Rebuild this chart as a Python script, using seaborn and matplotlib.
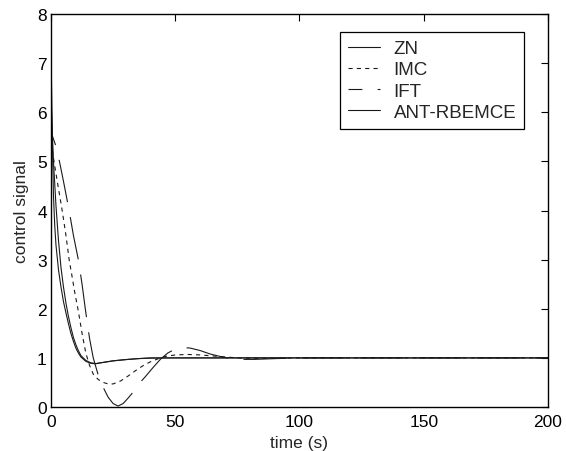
import matplotlib
matplotlib.use("Agg")
import matplotlib.pyplot as plt
import seaborn as sns
import pandas as pd

# ---- data ----
zn_t = [0, 0.3, 0.7, 1, 1.5, 2, 3, 4, 5, 6, 7, 8, 9, 10, 11, 12, 14, 16, 18, 20, 25, 30, 35, 40, 50, 60, 80, 100, 150, 200]
zn_y = [7.3, 6.3, 5.0, 4.3, 3.7, 3.3, 2.8, 2.45, 2.15, 1.92, 1.7, 1.5, 1.34, 1.2, 1.1, 1.02, 0.93, 0.89, 0.88, 0.9, 0.94, 0.965, 0.985, 0.995, 1.0, 1.0, 1.0, 1.0, 1.0, 1.0]

imc_t = [0, 1.2, 3, 4.5, 6, 7.3, 8.5, 9.5, 11, 12.5, 14, 15.5, 17, 19, 21, 23, 25, 28, 31, 34, 37, 40, 43, 46, 50, 55, 60, 65, 70, 75, 85, 100, 150, 200]
imc_y = [5.4, 5.0, 4.45, 4.0, 3.5, 3.0, 2.65, 2.35, 1.95, 1.5, 1.1, 0.85, 0.67, 0.56, 0.5, 0.47, 0.47, 0.53, 0.63, 0.74, 0.84, 0.92, 0.98, 1.03, 1.06, 1.07, 1.06, 1.04, 1.02, 1.0, 0.99, 1.0, 1.0, 1.0]

ift_t = [0, 2.4, 5, 7.3, 9, 11, 12.5, 13.8, 15.5, 17, 19, 21, 23, 25, 27, 29, 31, 33, 35, 38, 41, 44, 47, 50, 53, 56, 60, 64, 68, 72, 76, 82, 90, 100, 150, 200]
ift_y = [5.6, 5.25, 4.6, 4.0, 3.5, 3.0, 2.5, 2.0, 1.4, 1.0, 0.65, 0.4, 0.2, 0.07, 0.02, 0.07, 0.18, 0.3, 0.45, 0.62, 0.8, 0.97, 1.1, 1.18, 1.21, 1.2, 1.15, 1.08, 1.03, 0.99, 0.97, 0.97, 0.985, 1.0, 1.0, 1.0]

ant_t = [0, 0.5, 1, 2, 3, 4, 5, 6, 7, 8, 9, 10, 11, 12, 14, 16, 18, 20, 25, 30, 35, 40, 50, 60, 80, 100, 150, 200]
ant_y = [6.3, 5.6, 5.0, 4.1, 3.4, 2.85, 2.45, 2.12, 1.85, 1.62, 1.42, 1.27, 1.15, 1.05, 0.95, 0.9, 0.885, 0.9, 0.94, 0.965, 0.985, 1.0, 1.0, 1.0, 1.0, 1.0, 1.0, 1.0]

labels = ["ZN", "IMC", "IFT", "ANT-RBEMCE"]
x_ticks = [0, 50, 100, 150, 200]
y_ticks = [0, 1, 2, 3, 4, 5, 6, 7, 8]

series = {
    "ZN": (zn_t, zn_y),
    "IMC": (imc_t, imc_y),
    "IFT": (ift_t, ift_y),
    "ANT-RBEMCE": (ant_t, ant_y),
}
styles = {
    "ZN": "-",
    "IMC": (0, (3, 3)),
    "IFT": (21, (31, 11)),
    "ANT-RBEMCE": "-",
}

sns.set_style("white")
plt.rcParams["font.family"] = ["Liberation Sans", "DejaVu Sans"]
plt.rcParams["lines.scale_dashes"] = False

fig = plt.figure(figsize=(5.66, 4.52), dpi=100)
ax = fig.add_axes([0.0901, 0.0973, 0.8781, 0.8695])

for name in labels:
    t, y = series[name]
    df = pd.DataFrame({"time": t, "value": y})
    sns.lineplot(data=df, x="time", y="value", ax=ax, color="#1a1a1a",
                 linewidth=0.8, linestyle=styles[name], label=name,
                 sort=False, estimator=None)

ax.set_xlim(0, 200)
ax.set_ylim(0, 8)
ax.set_xticks(x_ticks)
ax.set_yticks(y_ticks)
ax.tick_params(direction="in", length=5, width=0.8, top=True, right=True,
               labelsize=12.5, colors="black")
ax.tick_params(axis="x", pad=5)
ax.tick_params(axis="y", pad=3)
for s in ax.spines.values():
    s.set_visible(True)
    s.set_color("black")
    s.set_linewidth(1.0)
ax.set_xlabel("time (s)", fontsize=12.5, labelpad=4)
ax.set_ylabel("control signal", fontsize=12.5, labelpad=6)

leg = ax.legend(loc="upper right", bbox_to_anchor=(0.952, 0.954),
                borderaxespad=0, fontsize=13.5, frameon=True, fancybox=False,
                handlelength=1.75, handletextpad=0.7, labelspacing=0.22,
                borderpad=0.42)
leg.get_frame().set_edgecolor("black")
leg.get_frame().set_linewidth(0.9)
leg.get_frame().set_alpha(1)

fig.savefig("out.png", dpi=100)
